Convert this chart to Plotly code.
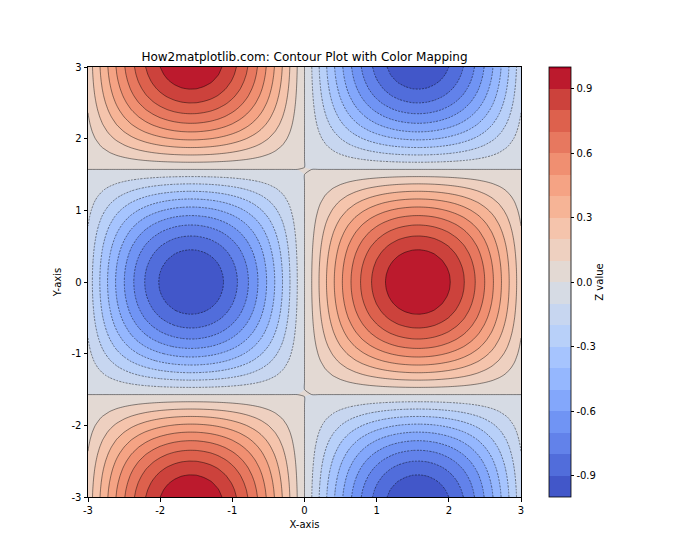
import plotly.graph_objects as go

# grid coordinates (step 0.1)
x_vals = [round(-3.0 + 0.1 * i, 1) for i in range(61)]
y_vals = [round(-3.0 + 0.1 * i, 1) for i in range(61)]

# horizontal profile (value along x)
x_profile = [
    -0.141, -0.239, -0.335, -0.427, -0.516, -0.598, -0.676, -0.746, -0.809, -0.863,
    -0.909, -0.946, -0.974, -0.992, -1.000, -0.998, -0.985, -0.964, -0.932, -0.891,
    -0.841, -0.783, -0.717, -0.644, -0.565, -0.479, -0.389, -0.296, -0.199, -0.100,
    0.0,
    0.100, 0.199, 0.296, 0.389, 0.479, 0.565, 0.644, 0.717, 0.783, 0.841,
    0.891, 0.932, 0.964, 0.985, 0.998, 1.000, 0.992, 0.974, 0.946, 0.909,
    0.863, 0.809, 0.746, 0.676, 0.598, 0.516, 0.427, 0.335, 0.239, 0.141,
]
# vertical profile (scale along y)
y_profile = [
    -0.990, -0.971, -0.942, -0.904, -0.857, -0.801, -0.737, -0.666, -0.589, -0.505,
    -0.416, -0.323, -0.227, -0.129, -0.029, 0.071, 0.170, 0.268, 0.362, 0.454,
    0.540, 0.622, 0.697, 0.765, 0.825, 0.878, 0.921, 0.955, 0.980, 0.995,
    1.000,
    0.995, 0.980, 0.955, 0.921, 0.878, 0.825, 0.765, 0.697, 0.622, 0.540,
    0.454, 0.362, 0.268, 0.170, 0.071, -0.029, -0.129, -0.227, -0.323, -0.416,
    -0.505, -0.589, -0.666, -0.737, -0.801, -0.857, -0.904, -0.942, -0.971, -0.990,
]

z_table = [[yp * xp for xp in x_profile] for yp in y_profile]

cb_ticks = [-0.9, -0.6, -0.3, 0.0, 0.3, 0.6, 0.9]
axis_ticks = [-3, -2, -1, 0, 1, 2, 3]

coolwarm = [
    [0.0, "rgb(59,76,192)"],
    [0.0625, "rgb(77,104,215)"],
    [0.125, "rgb(98,130,234)"],
    [0.1875, "rgb(116,153,247)"],
    [0.25, "rgb(141,176,254)"],
    [0.3125, "rgb(162,193,255)"],
    [0.375, "rgb(184,208,249)"],
    [0.4375, "rgb(203,216,238)"],
    [0.5, "rgb(221,221,221)"],
    [0.5625, "rgb(236,211,197)"],
    [0.625, "rgb(245,196,172)"],
    [0.6875, "rgb(246,176,145)"],
    [0.75, "rgb(244,154,123)"],
    [0.8125, "rgb(234,126,99)"],
    [0.875, "rgb(221,97,77)"],
    [0.9375, "rgb(200,58,56)"],
    [1.0, "rgb(180,4,38)"],
]

fig = go.Figure()
fig.add_trace(go.Contour(
    x=x_vals, y=y_vals, z=z_table,
    colorscale=coolwarm, zmin=-1, zmax=1, autocontour=False,
    contours=dict(start=-1, end=1, size=0.1, coloring="fill", showlines=False),
    line=dict(smoothing=0.6, width=0),
    colorbar=dict(
        x=1.065, xanchor="left", xpad=0, y=0.5, yanchor="middle", ypad=0,
        len=1.0, lenmode="fraction", thickness=22,
        outlinecolor="black", outlinewidth=0.8,
        tickmode="array", tickvals=cb_ticks, ticktext=[f"{t:.1f}" for t in cb_ticks],
        ticks="outside", ticklen=3.5, tickcolor="black",
        tickfont=dict(family="DejaVu Sans", size=10, color="black"),
        title=dict(text="Z value", side="right",
                   font=dict(family="DejaVu Sans", size=10, color="black")),
    ),
    hoverinfo="skip",
))
# negative contour lines (dashed)
fig.add_trace(go.Contour(
    x=x_vals, y=y_vals, z=z_table, autocontour=False,
    contours=dict(start=-0.9, end=-0.1, size=0.1, coloring="none"),
    line=dict(color="rgba(0,0,0,0.75)", width=0.6, dash="2px,1.2px", smoothing=0.6),
    showscale=False, hoverinfo="skip",
))
# non-negative contour lines (solid)
fig.add_trace(go.Contour(
    x=x_vals, y=y_vals, z=z_table, autocontour=False,
    contours=dict(start=0.0, end=0.9, size=0.1, coloring="none"),
    line=dict(color="rgba(0,0,0,0.75)", width=0.6, smoothing=0.6),
    showscale=False, hoverinfo="skip",
))

axis_common = dict(
    range=[-3, 3], tickmode="array", tickvals=axis_ticks,
    ticktext=[str(t) for t in axis_ticks],
    ticks="outside", ticklen=3.5, tickcolor="black",
    showline=True, linecolor="black", linewidth=1, mirror=True,
    showgrid=False, zeroline=False,
    tickfont=dict(family="DejaVu Sans", size=10, color="black"),
)

# page has an 8px body margin, so the figure is sized/offset to compensate
fig.update_layout(
    width=692, height=552,
    margin=dict(l=80, r=179, t=59, b=63),
    paper_bgcolor="white", plot_bgcolor="white",
    title=dict(text="How2matplotlib.com: Contour Plot with Color Mapping",
               x=(80 + 513) / 2 / 692, xanchor="center", y=1 - 49 / 552, yanchor="middle",
               font=dict(family="DejaVu Sans", size=12, color="black")),
    xaxis=dict(axis_common, title=dict(text="X-axis", standoff=6,
               font=dict(family="DejaVu Sans", size=10, color="black"))),
    yaxis=dict(axis_common, title=dict(text="Y-axis", standoff=8,
               font=dict(family="DejaVu Sans", size=10, color="black"))),
    showlegend=False,
)

fig.write_html("out.html")
